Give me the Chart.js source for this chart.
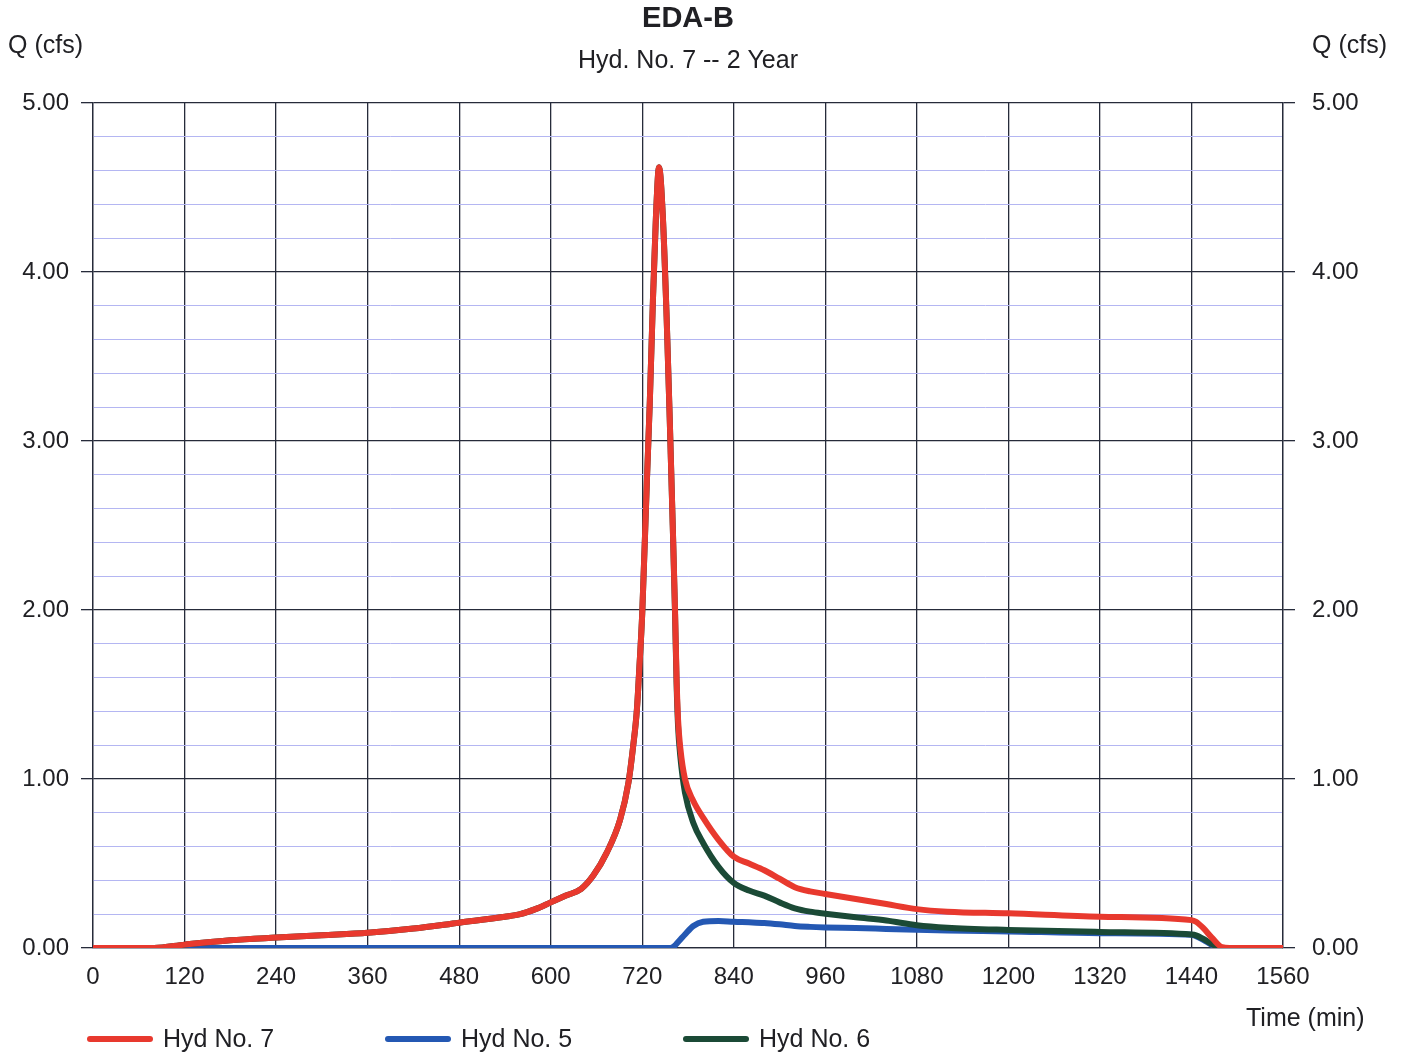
<!DOCTYPE html>
<html>
<head>
<meta charset="utf-8">
<title>EDA-B</title>
<script src="https://cdn.jsdelivr.net/npm/chart.js@4.4.1/dist/chart.umd.min.js"></script>
<style>
  html, body { margin: 0; padding: 0; background: #fff; }
  #wrap { width: 1406px; height: 1054px; position: relative; }
</style>
</head>
<body>
<div id="wrap"><canvas id="hydChart"></canvas></div>
<script>
// hydrograph ordinates (time in min, Q in cfs)
const times = [0, 80, 120, 180, 240, 300, 360, 420, 480, 540,
  560, 580, 600, 620, 640, 656, 673, 691, 702, 708,
  713, 716, 720, 726, 730, 734, 738, 742, 747, 752,
  756, 760, 763, 765, 767, 770, 776, 787, 800, 820,
  840, 860, 880, 900, 920, 940, 960, 1000, 1040, 1080,
  1120, 1200, 1320, 1440, 1446, 1455, 1468, 1480, 1490, 1560];

const hyd7 = [0, 0, 0.02, 0.046, 0.062, 0.076, 0.09, 0.115, 0.15, 0.185,
  0.2, 0.23, 0.27, 0.31, 0.35, 0.43, 0.56, 0.76, 0.98, 1.19,
  1.41, 1.64, 1.98, 2.75, 3.24, 3.83, 4.33, 4.62, 4.33, 3.73,
  3.14, 2.5, 2.0, 1.6, 1.35, 1.18, 1.0, 0.87, 0.77, 0.64,
  0.54, 0.5, 0.46, 0.41, 0.36, 0.335, 0.32, 0.29, 0.26, 0.23,
  0.215, 0.205, 0.185, 0.165, 0.155, 0.12, 0.055, 0.005, 0, 0];

const hyd5 = [0, 0, 0, 0, 0, 0, 0, 0, 0, 0,
  0, 0, 0, 0, 0, 0, 0, 0, 0, 0,
  0, 0, 0, 0, 0, 0, 0, 0, 0, 0,
  0, 0.005, 0.015, 0.025, 0.035, 0.05, 0.08, 0.13, 0.155, 0.16,
  0.155, 0.152, 0.148, 0.14, 0.13, 0.125, 0.122, 0.118, 0.113, 0.108,
  0.104, 0.098, 0.088, 0.078, 0.07, 0.05, 0.015, 0, 0, 0];

const hyd6 = [0, 0, 0.02, 0.046, 0.062, 0.076, 0.09, 0.115, 0.15, 0.185,
  0.2, 0.23, 0.27, 0.31, 0.35, 0.43, 0.56, 0.76, 0.98, 1.19,
  1.41, 1.64, 1.98, 2.75, 3.24, 3.83, 4.33, 4.62, 4.33, 3.73,
  3.14, 2.5, 1.98, 1.57, 1.31, 1.13, 0.92, 0.74, 0.62, 0.48,
  0.385, 0.34, 0.31, 0.27, 0.235, 0.215, 0.203, 0.182, 0.163, 0.135,
  0.12, 0.107, 0.095, 0.08, 0.075, 0.055, 0.02, 0, 0, 0];

const seriesNames = ['Hyd No. 7', 'Hyd No. 5', 'Hyd No. 6'];
const seriesColors = ['#e8392e', '#2458b3', '#1b4a36'];

const chartTitle = 'EDA-B';
const chartSubtitle = 'Hyd. No. 7 -- 2 Year';
const yCaption = 'Q (cfs)';
const xCaption = 'Time (min)';

const xMax = 1560, xStep = 120;
const yMax = 5, yStep = 0.2;

const FONT = '"Liberation Sans", Arial, sans-serif';
const TEXT = '#202024';
const MAJOR = '#262b3a';
const MINOR = '#b4b6f2';

const isMajor = v => Math.abs(v - Math.round(v)) < 1e-6;

function toPoints(values) {
  return times.map((t, i) => ({ x: t, y: values[i] }));
}

// titles, axis captions and the legend row are painted on the canvas
const captions = {
  id: 'captions',
  afterDraw(chart) {
    const c = chart.ctx;
    c.save();
    c.fillStyle = TEXT;
    c.textBaseline = 'middle';

    c.textAlign = 'center';
    c.font = 'bold 29px ' + FONT;
    c.fillText(chartTitle, 688, 19);
    c.font = '25px ' + FONT;
    c.fillText(chartSubtitle, 688, 61);

    c.textAlign = 'left';
    c.fillText(yCaption, 8, 46);
    c.fillText(yCaption, 1312, 46);
    c.fillText(xCaption, 1246, 1019);

    chart.data.datasets.forEach((ds, i) => {
      const x0 = 88 + i * 298;
      c.strokeStyle = ds.borderColor;
      c.lineWidth = 6;
      c.lineCap = 'round';
      c.beginPath();
      c.moveTo(x0 + 2, 1039);
      c.lineTo(x0 + 62, 1039);
      c.stroke();
      c.fillStyle = TEXT;
      c.fillText(ds.label, x0 + 75, 1040);
    });
    c.restore();
  }
};

const yTicks = {
  stepSize: yStep,
  autoSkip: false,
  color: TEXT,
  font: { family: FONT, size: 24 },
  callback: v => (isMajor(v) ? v.toFixed(2) : '')
};

const ctx = document.getElementById('hydChart').getContext('2d');
new Chart(ctx, {
  type: 'line',
  data: {
    datasets: [0, 1, 2].map(i => ({
      label: seriesNames[i],
      data: toPoints([hyd7, hyd5, hyd6][i]),
      borderColor: seriesColors[i],
      backgroundColor: seriesColors[i],
      borderWidth: 6,
      borderJoinStyle: 'round',
      borderCapStyle: 'round',
      pointRadius: 0,
      fill: false,
      cubicInterpolationMode: 'monotone',
      order: [0, 2, 1][i],
    })),
  },
  options: {
    responsive: true,
    maintainAspectRatio: false,
    animation: false,
    layout: { padding: { top: 103, left: 0, right: 0, bottom: 0 } },
    plugins: {
      legend: { display: false },
      title: { display: false },
      tooltip: { enabled: false },
    },
    scales: {
      x: {
        type: 'linear',
        min: 0,
        max: xMax,
        afterFit: s => { s.height = 106; },
        ticks: {
          stepSize: xStep,
          autoSkip: false,
          maxRotation: 0,
          padding: 15,
          color: TEXT,
          font: { family: FONT, size: 24 },
          callback: v => String(v),
        },
        grid: { color: MAJOR, lineWidth: 1.3, drawTicks: false },
        border: { color: MAJOR, width: 1.3 },
      },
      y: {
        position: 'left',
        min: 0,
        max: yMax,
        afterFit: s => { s.width = 93; },
        ticks: { ...yTicks, padding: 12 },
        grid: {
          color: c => (isMajor(c.tick.value) ? MAJOR : MINOR),
          lineWidth: c => (isMajor(c.tick.value) ? 1.3 : 1),
          tickColor: c => (isMajor(c.tick.value) ? MAJOR : 'rgba(0,0,0,0)'),
          tickLength: 12,
        },
        border: { color: MAJOR, width: 1.3 },
      },
      y2: {
        position: 'right',
        min: 0,
        max: yMax,
        afterFit: s => { s.width = 123; },
        ticks: { ...yTicks, padding: 17 },
        grid: {
          drawOnChartArea: false,
          tickColor: c => (isMajor(c.tick.value) ? MAJOR : 'rgba(0,0,0,0)'),
          lineWidth: 1.3,
          tickLength: 12,
        },
        border: { color: MAJOR, width: 1.3 },
      },
    },
  },
  plugins: [captions],
});
</script>
</body>
</html>
